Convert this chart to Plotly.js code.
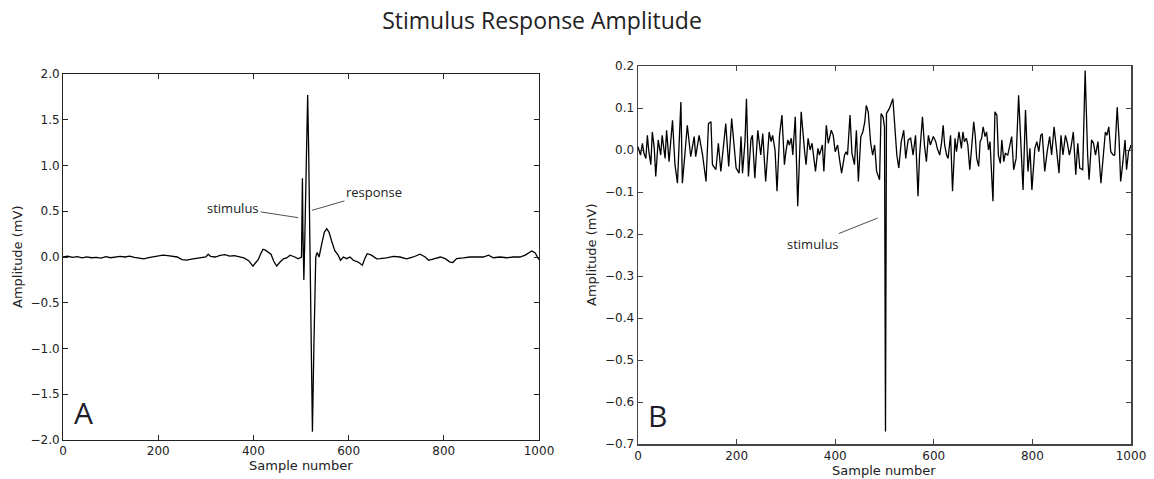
<!DOCTYPE html>
<html>
<head>
<meta charset="utf-8">
<script src="https://cdn.plot.ly/plotly-3.0.1.min.js"></script>
<style>html,body{margin:0;padding:0;background:#fff;}#chart{width:1154px;height:479px;}</style>
</head>
<body>
<div id="chart"></div>
<script>
// Panel A: sample number vs amplitude (mV)
const leftSample = [0,10,20,30,40,50,60,70,80,90,100,110,120,130,140,150,160,170,180,190,200,210,220,230,240,250,260,270,280,290,300,305,310,320,330,340,350,360,370,380,390,399,405,410,415,420,425,430,437,443,449,455,463,470,477,487,494,501,503,504,506,508,511,514,516,519,522,524,527,529,531,534,538,543,549,554,559,564,571,578,583,589,596,603,610,620,629,634,639,648,659,666,680,694,708,722,736,750,761,768,779,793,803,813,819,827,841,855,869,883,894,904,918,932,946,960,971,985,992,1000];
const leftAmp = [0.0,0.008,-0.005,0.004,-0.01,0.002,-0.008,-0.004,-0.012,0.003,-0.008,-0.004,0.006,0.0,0.01,-0.004,-0.01,-0.02,-0.008,0.0,0.006,0.02,0.014,0.01,0.0,-0.028,-0.034,-0.024,-0.018,-0.01,0.0,0.03,0.008,0.0,0.018,0.026,0.01,0.014,0.0,-0.01,-0.04,-0.1,-0.06,-0.03,0.03,0.085,0.075,0.06,0.03,-0.05,-0.1,-0.06,-0.02,-0.01,0.02,0.0,-0.02,0.0,0.86,0.3,-0.25,0.2,1.0,1.77,1.2,0.0,-1.2,-1.91,-1.0,-0.4,0.0,0.05,0.0,0.13,0.27,0.31,0.27,0.18,0.07,0.02,-0.036,0.0,-0.018,0.0,-0.036,-0.055,-0.09,-0.018,0.036,0.02,-0.02,-0.018,-0.01,0.007,0.0,-0.02,0.0,0.03,0.0,-0.036,-0.018,0.0,-0.018,-0.055,-0.06,-0.018,-0.01,0.0,0.0,0.0,0.02,-0.008,0.0,-0.008,0.0,0.0,0.02,0.066,0.044,-0.03];

// Panel B: sample number vs amplitude (mV)
const rightSample = [0,2,5,9,12,16,19,22,26,29,33,36,41,46,49,55,58,63,70,75,80,87,90,95,100,107,114,117,124,131,138,143,148,151,158,163,168,175,178,184,190,199,205,209,212,217,220,224,229,232,237,243,249,253,259,266,270,273,278,282,287,292,297,300,304,307,311,314,319,324,331,338,341,345,349,353,356,360,365,368,374,377,382,386,392,396,400,405,409,413,419,422,425,430,434,439,443,447,452,456,460,463,467,472,476,480,484,490,493,497,500,502,504,510,517,520,525,529,534,539,543,548,553,558,563,568,571,577,581,585,589,593,599,604,607,612,616,619,622,626,629,634,638,643,646,651,656,659,662,666,669,673,677,681,684,687,691,694,697,700,704,707,711,714,720,724,728,731,735,738,742,745,750,754,758,762,767,772,776,781,786,791,795,799,805,809,813,817,820,825,830,835,839,844,848,854,858,862,867,871,875,878,883,888,892,896,902,907,912,915,920,924,928,933,939,944,948,951,955,959,964,967,972,976,979,983,988,991,995,998,1000];
const rightAmp = [0.008,0.0,-0.012,0.016,-0.008,-0.02,0.035,-0.004,-0.035,0.043,0.004,-0.063,0.024,-0.012,0.035,-0.02,0.047,-0.028,0.071,-0.035,-0.079,0.114,-0.079,-0.012,0.059,-0.016,0.032,-0.016,0.035,-0.012,-0.075,0.063,0.067,-0.035,-0.047,0.016,-0.051,0.028,0.063,-0.039,0.075,-0.043,-0.055,0.032,-0.055,0.02,0.122,-0.063,0.024,0.035,-0.067,0.047,-0.012,0.039,-0.075,0.043,0.02,0.035,0.0,-0.098,0.035,0.083,-0.035,-0.004,0.024,0.012,0.028,-0.012,0.079,-0.134,0.091,-0.004,-0.035,0.028,0.0,0.016,-0.012,-0.051,0.004,-0.012,0.012,-0.051,0.059,0.016,0.047,0.035,-0.004,0.012,-0.024,-0.055,-0.012,-0.004,-0.012,0.083,-0.008,-0.035,0.047,-0.075,0.032,0.043,0.067,0.106,0.091,0.016,-0.012,0.012,-0.051,-0.071,0.087,0.079,0.055,-0.67,0.087,0.099,0.122,0.063,-0.012,-0.043,0.02,0.047,-0.02,0.024,0.028,-0.012,0.035,-0.11,-0.016,0.079,0.012,-0.028,0.035,0.012,0.032,0.02,0.004,-0.012,0.02,0.059,0.012,-0.012,-0.02,0.035,-0.098,0.028,-0.004,0.043,0.004,0.043,0.02,0.028,0.012,-0.047,0.02,0.067,0.035,-0.02,-0.039,0.02,0.028,0.055,0.032,0.043,0.0,0.02,-0.122,0.091,0.083,-0.012,-0.032,0.024,-0.028,-0.008,-0.012,0.012,0.032,-0.047,-0.02,0.13,0.028,-0.095,0.095,-0.051,0.004,-0.095,0.004,0.02,-0.004,0.035,0.039,-0.051,-0.004,0.032,-0.012,0.055,0.012,-0.055,0.035,-0.012,0.035,0.016,-0.012,0.004,0.043,-0.059,0.016,-0.043,-0.047,0.189,-0.012,-0.071,0.024,0.016,-0.012,0.02,-0.079,-0.004,0.043,0.035,0.055,-0.004,-0.012,-0.012,0.102,0.02,-0.075,-0.035,0.024,-0.047,-0.004,0.004,0.012];

const xTickVals = [0,200,400,600,800,1000];
const leftYTickVals = [-2.0,-1.5,-1.0,-0.5,0.0,0.5,1.0,1.5,2.0];
const rightYTickVals = [-0.7,-0.6,-0.5,-0.4,-0.3,-0.2,-0.1,0.0,0.1,0.2];

const chartTitle = 'Stimulus Response Amplitude';
const xLabel = 'Sample number';
const yLabel = 'Amplitude (mV)';

const W = 1154, H = 479;
const px = v => v / W;
const py = v => (H - v) / H;

const tickFont = {family: 'DejaVu Sans', size: 12, color: '#222'};
const lineStyle = {color: '#000', width: 1.3};

const traces = [
  {x: leftSample, y: leftAmp, type: 'scatter', mode: 'lines', line: lineStyle, xaxis: 'x', yaxis: 'y', hoverinfo: 'x+y'},
  {x: rightSample, y: rightAmp, type: 'scatter', mode: 'lines', line: lineStyle, xaxis: 'x2', yaxis: 'y2', hoverinfo: 'x+y'}
];

function axisBase(color, width) {
  return {
    showgrid: false, zeroline: false, showline: true, linecolor: color, linewidth: width,
    mirror: 'ticks', ticks: 'inside', ticklen: 5, tickwidth: 1, tickcolor: color,
    tickfont: tickFont, fixedrange: true
  };
}

const layout = {
  width: W, height: H,
  margin: {l: 0, r: 0, t: 0, b: 0},
  paper_bgcolor: '#fff', plot_bgcolor: '#fff',
  showlegend: false,
  title: {text: chartTitle, x: px(542), xanchor: 'center', xref: 'paper', y: py(21), yanchor: 'middle', yref: 'paper',
          font: {family: 'Open Sans', size: 23, color: '#222'}},
  xaxis: Object.assign(axisBase('#222', 1), {domain: [px(63), px(539)], range: [0, 1000], tickvals: xTickVals, anchor: 'y'}),
  yaxis: Object.assign(axisBase('#222', 1), {domain: [py(440), py(74)], range: [-2, 2], tickvals: leftYTickVals, tickformat: '.1f', anchor: 'x'}),
  xaxis2: Object.assign(axisBase('#444', 1.5), {domain: [px(638), px(1131)], range: [0, 1000], tickvals: xTickVals, anchor: 'y2'}),
  yaxis2: Object.assign(axisBase('#444', 1.5), {domain: [py(444), py(66)], range: [-0.7, 0.2], tickvals: rightYTickVals, tickformat: '.1f', anchor: 'x2'}),
  annotations: [
    {text: xLabel, xref: 'paper', yref: 'paper', x: px(301), y: py(465), showarrow: false, xanchor: 'center', yanchor: 'middle', font: {family: 'DejaVu Sans', size: 13, color: '#222'}},
    {text: xLabel, xref: 'paper', yref: 'paper', x: px(884), y: py(470), showarrow: false, xanchor: 'center', yanchor: 'middle', font: {family: 'DejaVu Sans', size: 13, color: '#222'}},
    {text: yLabel, xref: 'paper', yref: 'paper', x: px(18), y: py(257), textangle: -90, showarrow: false, xanchor: 'center', yanchor: 'middle', font: {family: 'DejaVu Sans', size: 13, color: '#222'}},
    {text: yLabel, xref: 'paper', yref: 'paper', x: px(592), y: py(255), textangle: -90, showarrow: false, xanchor: 'center', yanchor: 'middle', font: {family: 'DejaVu Sans', size: 13, color: '#222'}},
    {text: 'A', xref: 'paper', yref: 'paper', x: px(83), y: py(412), showarrow: false, xanchor: 'center', yanchor: 'middle', font: {family: 'Open Sans', size: 30, color: '#1e1e2a'}},
    {text: 'B', xref: 'paper', yref: 'paper', x: px(657), y: py(415), showarrow: false, xanchor: 'center', yanchor: 'middle', font: {family: 'Open Sans', size: 30, color: '#1e1e2a'}},
    {text: 'stimulus', xref: 'x', yref: 'y', x: 494, y: 0.43, ax: -65, ay: -10, showarrow: true, arrowhead: 0, arrowwidth: 0.8, arrowcolor: '#222', standoff: 0, font: {family: 'Open Sans', size: 13, color: '#222'}},
    {text: 'response', xref: 'x', yref: 'y', x: 523, y: 0.51, ax: 62, ay: -18, showarrow: true, arrowhead: 0, arrowwidth: 0.8, arrowcolor: '#222', standoff: 0, font: {family: 'Open Sans', size: 13, color: '#222'}},
    {text: 'stimulus', xref: 'x2', yref: 'y2', x: 486, y: -0.162, ax: -65, ay: 26, showarrow: true, arrowhead: 0, arrowwidth: 0.8, arrowcolor: '#222', standoff: 0, font: {family: 'Open Sans', size: 13, color: '#222'}}
  ]
};

Plotly.newPlot('chart', traces, layout, {displayModeBar: false, staticPlot: true});
</script>
</body>
</html>
